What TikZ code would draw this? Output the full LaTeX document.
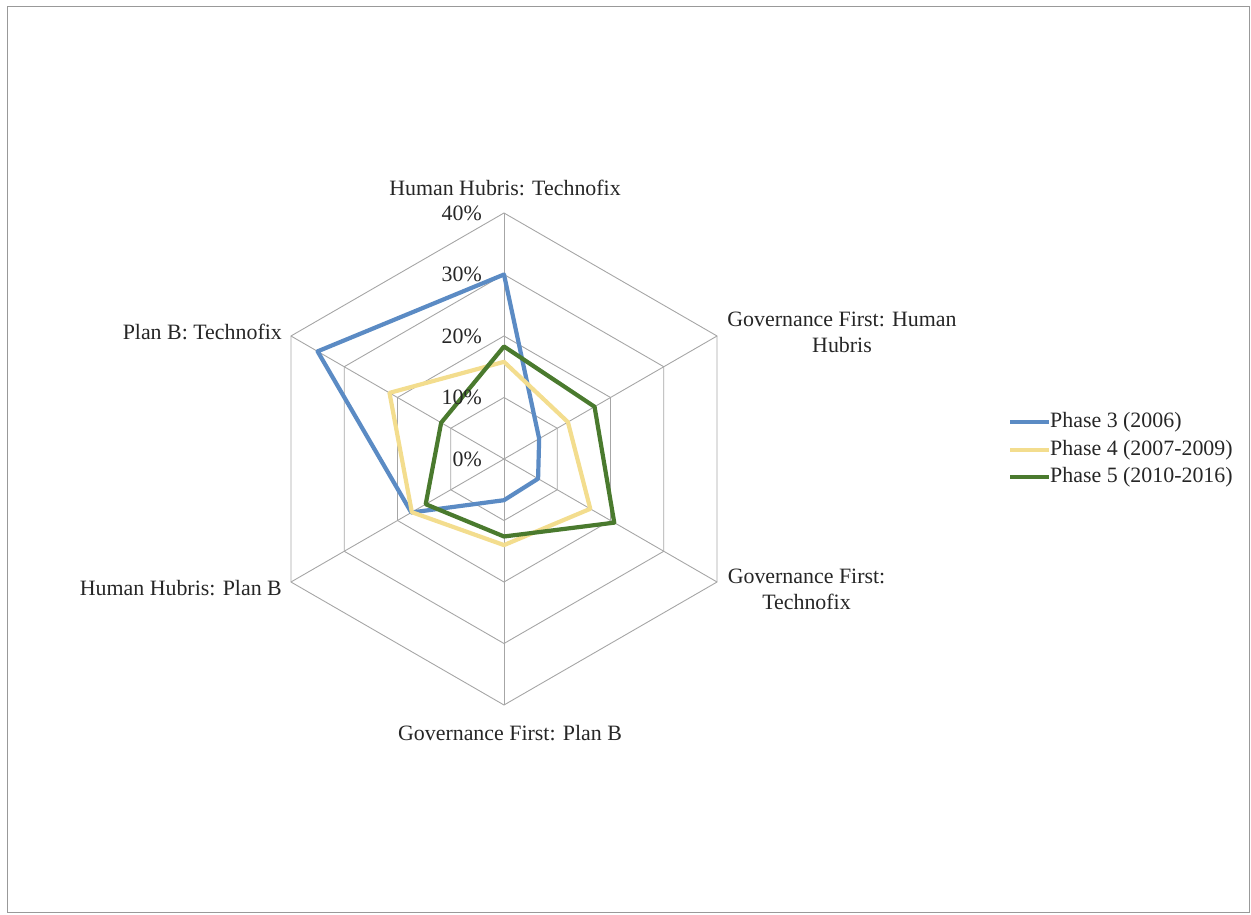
\documentclass[tikz,border=0pt]{standalone}
\usepackage{fontspec}
\setmainfont{Liberation Serif}
\usetikzlibrary{calc}
\definecolor{pblue}{HTML}{5B8BC4}
\definecolor{pyellow}{HTML}{F3DD8E}
\definecolor{pgreen}{HTML}{4A7A2E}
\definecolor{gridgray}{HTML}{A6A6A6}
\definecolor{txt}{HTML}{262626}
\newcommand\radarseries[7]{%
  \draw[#1] ($(c)+(90:#2*6.15)$) -- ($(c)+(30:#3*6.15)$) -- ($(c)+(-30:#4*6.15)$)
    -- ($(c)+(-90:#5*6.15)$) -- ($(c)+(-150:#6*6.15)$) -- ($(c)+(150:#7*6.15)$) -- cycle;}
\begin{document}
\begin{tikzpicture}[x=1pt,y=1pt,
  gridline/.style={draw=gridgray, line width=0.9pt},
  frameline/.style={draw=gray!80, line width=1pt},
  sthree/.style={draw=pblue, line width=4.2pt, line join=round},
  sfour/.style={draw=pyellow, line width=4.2pt, line join=round},
  sfive/.style={draw=pgreen, line width=4.2pt, line join=round},
  lbl/.style={inner sep=0pt, text=txt, font=\fontsize{21.9}{26}\selectfont},
  ]
\useasboundingbox (0,0) rectangle (1251,914);
\draw[frameline] (7,2) rectangle (1249,907);
\coordinate (c) at (504,455);
% rings
\foreach \r in {61.5,123,184.5,246}{
  \draw[gridline] ($(c)+(90:\r)$) -- ($(c)+(30:\r)$) -- ($(c)+(-30:\r)$) -- ($(c)+(-90:\r)$)
    -- ($(c)+(-150:\r)$) -- ($(c)+(150:\r)$) -- cycle;}
% spokes
\foreach \a/\n in {90/vT,30/vUR,-30/vLR,-90/vB,-150/vLL,150/vUL}{
  \coordinate (\n) at ($(c)+(\a:246)$);
  \draw[gridline] (c) -- (\n);}
% series
\radarseries{sthree}{30}{6.6}{6.4}{6.7}{17.4}{35}
\radarseries{sfour}{15.8}{12}{16.2}{14}{17.3}{21.5}
\radarseries{sfive}{18.3}{17}{20.7}{12.6}{14.7}{11.8}
% axis value labels
\node[lbl, anchor=east] (p40) at (482,701) {40\%};
\node[lbl, anchor=east] (p30) at (482,639.5) {30\%};
\node[lbl, anchor=east] (p20) at (482,578) {20\%};
\node[lbl, anchor=east] (p10) at (482,516.5) {10\%};
\node[lbl, anchor=east] (p0) at (482,455) {0\%};
% category labels
\node[lbl] (cT) at (505,726) {Human Hubris: Technofix};
\node[lbl, align=center] (cUR) at (842,582) {Governance First: Human\\Hubris};
\node[lbl, align=center] (cLR) at (806.5,325) {Governance First:\\Technofix};
\node[lbl] (cB) at (510,181) {Governance First: Plan B};
\node[lbl, anchor=east] (cLL) at (282,326) {Human Hubris: Plan B};
\node[lbl, anchor=east] (cUL) at (282,582) {Plan B: Technofix};
% legend
\coordinate (l3a) at (1010,492); \coordinate (l3b) at (1049,492);
\coordinate (l4a) at (1010,464); \coordinate (l4b) at (1049,464);
\coordinate (l5a) at (1010,437); \coordinate (l5b) at (1049,437);
\draw[sthree] (l3a) -- (l3b);
\draw[sfour] (l4a) -- (l4b);
\draw[sfive] (l5a) -- (l5b);
\node[lbl, anchor=west] (t3) at (1050,492) {Phase 3 (2006)};
\node[lbl, anchor=west] (t4) at (1050,464) {Phase 4 (2007-2009)};
\node[lbl, anchor=west] (t5) at (1050,437) {Phase 5 (2010-2016)};
\end{tikzpicture}
\end{document}
